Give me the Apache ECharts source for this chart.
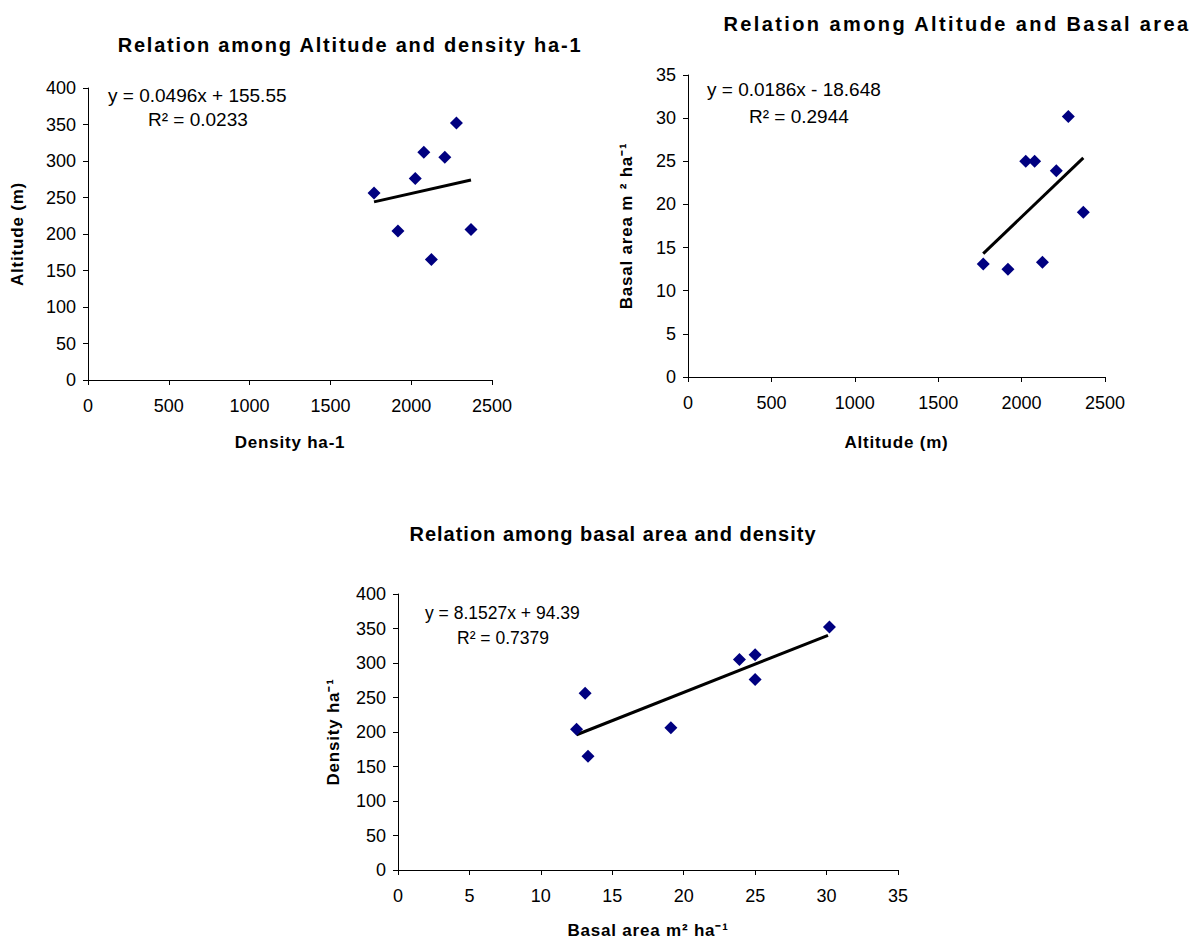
<!DOCTYPE html>
<html>
<head>
<meta charset="UTF-8">
<title>Relations</title>
<script src="https://cdn.jsdelivr.net/npm/echarts@6/dist/echarts.min.js"></script>
<style>
  html, body { margin: 0; padding: 0; background: #fff; }
  #main { width: 1193px; height: 940px; }
</style>
</head>
<body>
<div id="main"></div>
<script>
// site values (altitude m, density ha-1, basal area m2 ha-1)
var altitude = [1770, 1918, 2025, 2078, 2125, 2208, 2280, 2370];
var density  = [256, 204, 276, 312, 165, 305, 352, 206];
var basal    = [13.1, 12.5, 25.0, 25.0, 13.3, 23.9, 30.2, 19.1];

// trend line end points as drawn
var trend1 = [[1770, 244], [2370, 274]];
var trend2 = [[1770, 14.3], [2370, 25.4]];
var trend3 = [[12.5, 196], [30.1, 340]];

var titles = ['Relation among Altitude and density ha-1', 'Relation among Altitude and Basal area', 'Relation among basal area and density'];
var titleSpacing = ['1.8px', '2.4px', '1px'];
var eqs = [['y = 0.0496x + 155.55', 'R² = 0.0233'], ['y = 0.0186x - 18.648', 'R² = 0.2944'], ['y = 8.1527x + 94.39', 'R² = 0.7379']];

function pairs(xs, ys) {
  var out = [];
  for (var i = 0; i < xs.length; i++) out.push([xs[i], ys[i]]);
  return out;
}

var FONT = 'Liberation Sans, Arial, sans-serif';

function axis(idx, min, max, step, name, gap, isY) {
  return {
    type: 'value', gridIndex: idx, min: min, max: max, interval: step,
    name: name, nameLocation: 'middle', nameGap: gap,
    nameTextStyle: { fontFamily: FONT, fontWeight: 'bold', fontSize: 17, color: '#000' },
    axisLine: { show: true, onZero: false, lineStyle: { color: '#000', width: 1 } },
    axisTick: { show: true, inside: false, length: 5, lineStyle: { color: '#000' } },
    axisLabel: { fontFamily: FONT, fontSize: 18, color: '#000', margin: isY ? 12 : 17,
      formatter: function (v) { return String(v); } },
    splitLine: { show: false }
  };
}

function scatter(idx, data) {
  return {
    type: 'scatter', xAxisIndex: idx, yAxisIndex: idx, data: data,
    symbol: 'diamond', symbolSize: 13, itemStyle: { color: '#000080', opacity: 1 }, z: 3
  };
}
function trendLine(idx, data) {
  return {
    type: 'line', xAxisIndex: idx, yAxisIndex: idx, data: data, showSymbol: false,
    lineStyle: { color: '#000', width: 3 }, z: 2
  };
}

function txt(s, x, y, bold, size, align) {
  return {
    type: 'text',
    style: { text: s, x: x, y: y, fontFamily: FONT, fontSize: size, fontWeight: bold ? 'bold' : 'normal',
      fill: '#000', textAlign: align || 'left', textVerticalAlign: 'middle' }
  };
}

var chart = echarts.init(document.getElementById('main'), null, { renderer: 'svg' });
chart.setOption({
  animation: false,
  backgroundColor: '#fff',
  grid: [
    { left: 88, top: 88, width: 404, height: 292 },
    { left: 688, top: 75, width: 417, height: 302 },
    { left: 398, top: 594, width: 500, height: 277 }
  ],
  xAxis: [
    axis(0, 0, 2500, 500, 'Density ha-1', 54, false),
    axis(1, 0, 2500, 500, 'Altitude (m)', 57, false),
    axis(2, 0, 35, 5, 'Basal area m² ha⁻¹', 52, false)
  ],
  yAxis: [
    axis(0, 0, 400, 50, 'Altitude (m)', 62, true),
    axis(1, 0, 35, 5, 'Basal area m ² ha⁻¹', 53, true),
    axis(2, 0, 400, 50, 'Density ha⁻¹', 56, true)
  ],
  series: [
    scatter(0, pairs(altitude, density)), trendLine(0, trend1),
    scatter(1, pairs(altitude, basal)), trendLine(1, trend2),
    scatter(2, pairs(basal, density)), trendLine(2, trend3)
  ],
  graphic: [
    txt(titles[0], 350, 45, true, 20, 'center'),
    txt(titles[1], 957, 24, true, 20, 'center'),
    txt(titles[2], 613, 534, true, 20, 'center'),
    txt(eqs[0][0], 108, 95, false, 19), txt(eqs[0][1], 148, 119, false, 19),
    txt(eqs[1][0], 707, 89, false, 19), txt(eqs[1][1], 749, 116, false, 19),
    txt(eqs[2][0], 425, 613, false, 17.5), txt(eqs[2][1], 457, 638, false, 17.5)
  ]
});

// Excel spreads its bold captions out a little
document.querySelectorAll('#main text').forEach(function (el) {
  var w = getComputedStyle(el).fontWeight;
  if (w === 'bold' || parseInt(w, 10) >= 700) {
    var t = titles.indexOf(el.textContent);
    el.style.letterSpacing = t >= 0 ? titleSpacing[t] : '0.8px';
  }
});
</script>
</body>
</html>
